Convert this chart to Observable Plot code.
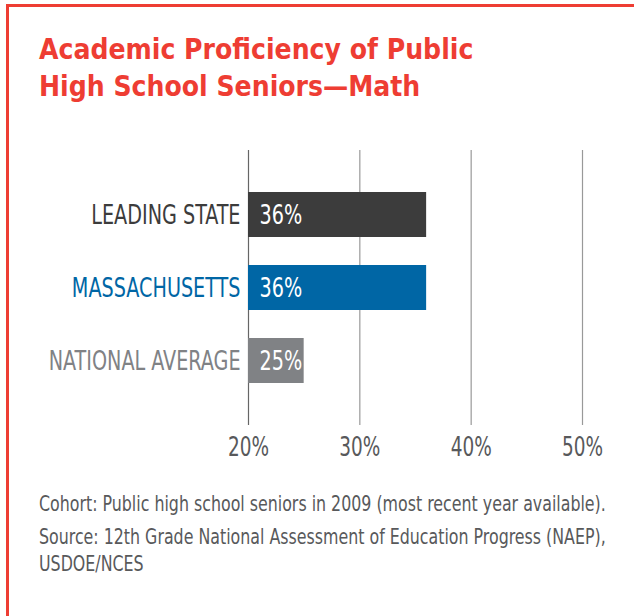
<!DOCTYPE html>
<html>
<head>
<meta charset="utf-8">
<script src="https://cdn.jsdelivr.net/npm/d3@7"></script>
<script src="https://cdn.jsdelivr.net/npm/@observablehq/plot@0.6"></script>
<style>
  html, body { margin: 0; padding: 0; background: #fff; }
  #page { position: relative; width: 634px; height: 616px; overflow: hidden; font-family: 'DejaVu Sans Condensed', 'DejaVu Sans', sans-serif; }
  #frame { position: absolute; left: 6px; top: 4px; width: 700px; height: 700px; border-top: 3px solid #ee3d33; border-left: 3px solid #ee3d33; }
  #title { position: absolute; left: 39px; top: 31px; font-size: 28px; line-height: 37px; font-weight: bold; color: #ee3d33; white-space: nowrap; }
  #chart { position: absolute; left: 0; top: 130px; }
  #caption { position: absolute; left: 39px; top: 490px; font-size: 22px; line-height: 27px; color: #58595b; white-space: nowrap; transform: scaleX(0.8); transform-origin: 0 0; }
  #caption p { margin: 0 0 6px 0; }
</style>
</head>
<body>
<div id="page">
  <div id="frame"></div>
  <div id="title">Academic Proficiency of Public<br>High School Seniors—Math</div>
  <div id="chart"></div>
  <div id="caption">
    <p>Cohort: Public high school seniors in 2009 (most recent year available).</p>
    <p>Source: 12th Grade National Assessment of Education Progress (NAEP),<br>USDOE/NCES</p>
  </div>
</div>
<script>
const categories = ["LEADING STATE", "MASSACHUSETTS", "NATIONAL AVERAGE"];
const values = [36, 36, 25];
const colors = ["#3c3c3c", "#0066a5", "#808285"];
const xTicks = [20, 30, 40, 50];

const data = categories.map((c, i) => ({category: c, value: values[i], color: colors[i]}));

const chart = Plot.plot({
  width: 634,
  height: 340,
  marginLeft: 248,
  marginRight: 52,
  marginTop: 20,
  marginBottom: 45,
  style: {fontFamily: "'DejaVu Sans Condensed', 'DejaVu Sans', sans-serif", background: "transparent"},
  x: {domain: [20, 50], axis: null},
  y: {domain: categories, paddingInner: 0.39, paddingOuter: 0.565, axis: null},
  marks: [
    Plot.ruleX(xTicks, {stroke: d => d === 20 ? "#666" : "#999", strokeWidth: 1.2}),
    Plot.barX(data, {x1: 20, x2: "value", y: "category", fill: "color"}),
    Plot.text(data, {x: 20, y: "category", text: "category", textAnchor: "end", dx: -8, fill: "color", fontSize: 27}),
    Plot.text(data, {x: 20, y: "category", text: d => d.value + "%", textAnchor: "start", dx: 11, fill: "white", fontSize: 27}),
    Plot.axisX({ticks: xTicks, tickSize: 0, tickPadding: 12, tickFormat: d => d + "%", fontSize: 26, fill: "#58595b", label: null})
  ]
});
// condense the glyphs horizontally around each text's anchor point
d3.select(chart).selectAll("text").each(function() {
  const x = +this.getAttribute("x") || 0;
  const tr = this.getAttribute("transform") || "";
  this.setAttribute("transform", `${tr} translate(${x},0) scale(0.79,1) translate(${-x},0)`);
});
document.getElementById("chart").appendChild(chart);
</script>
</body>
</html>
